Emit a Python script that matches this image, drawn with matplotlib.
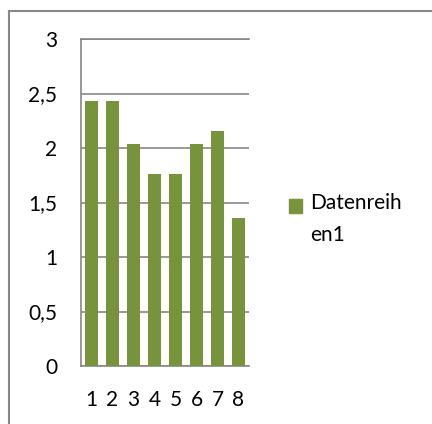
import matplotlib.pyplot as plt
from matplotlib.lines import Line2D
from matplotlib.patches import Rectangle

categories = ['1', '2', '3', '4', '5', '6', '7', '8']
values = [2.43, 2.43, 2.04, 1.76, 1.76, 2.04, 2.16, 1.36]
y_ticks = [0, 0.5, 1, 1.5, 2, 2.5, 3]
y_labels = ['0', '0,5', '1', '1,5', '2', '2,5', '3']
series_name = 'Datenreih\nen1'

bar_color = '#77933C'
grid_color = '#868686'

plt.rcParams['font.family'] = ['Lato', 'DejaVu Sans']

fig = plt.figure(figsize=(4.32, 4.24), dpi=100)
ax = fig.add_axes([81 / 432, 1 - 366 / 424, 168 / 432, 327 / 424])

ax.bar(range(len(values)), values, width=0.635, color=bar_color, zorder=3)
ax.set_xlim(-0.5, len(values) - 0.5)
ax.set_ylim(0, 3)
ax.set_yticks(y_ticks)
ax.set_yticklabels(y_labels)
ax.set_xticks(range(len(categories)))
ax.set_xticklabels(categories)
ax.tick_params(axis='both', length=0, labelsize=15, colors='black')
ax.tick_params(axis='y', pad=17)
ax.tick_params(axis='x', pad=17)
ax.yaxis.grid(True, color=grid_color, linewidth=1.2, zorder=0)
ax.set_axisbelow(True)
for side in ['top', 'right']:
    ax.spines[side].set_visible(False)
for side in ['left', 'bottom']:
    ax.spines[side].set_color(grid_color)
    ax.spines[side].set_linewidth(1.2)
# top gridline at 3 is clipped at the edge, draw it again
ax.axhline(3, color=grid_color, linewidth=1.2, clip_on=False)

# legend: square + wrapped label
fig.add_artist(Rectangle((289 / 432, 1 - 213 / 424), 13 / 432, 14 / 424,
                         transform=fig.transFigure, color=bar_color))
fig.text(310 / 432, 1 - 193 / 424, series_name, fontsize=15, va='top',
         ha='left', linespacing=1.75)

# chart area border (left and top visible)
fig.add_artist(Line2D([8.5 / 432, 8.5 / 432], [1 - 10.5 / 424, 0],
                      transform=fig.transFigure, color=grid_color, linewidth=1.5))
fig.add_artist(Line2D([8.5 / 432, 1], [1 - 10.5 / 424, 1 - 10.5 / 424],
                      transform=fig.transFigure, color=grid_color, linewidth=1.5))

plt.savefig('out.png', dpi=100)
